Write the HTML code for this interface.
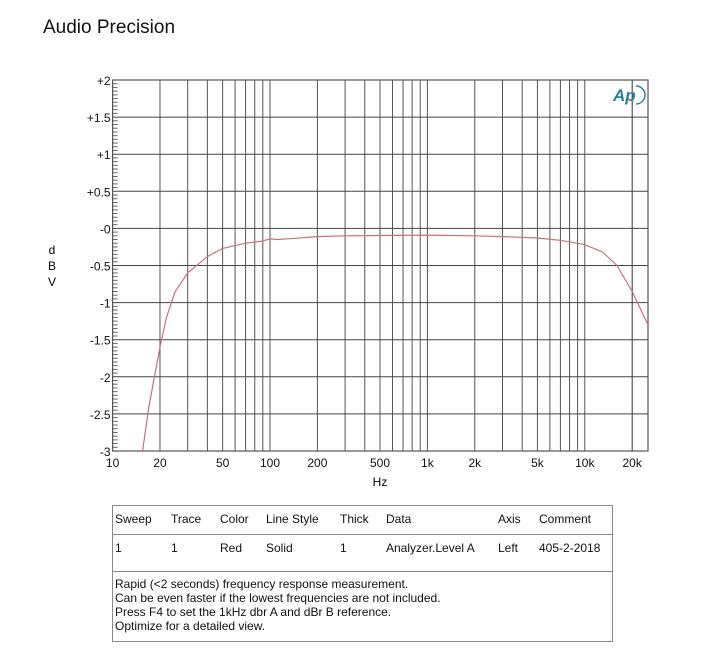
<!DOCTYPE html>
<html><head><meta charset="utf-8"><style>
body{margin:0;background:#fff;font-family:"Liberation Sans",Arial,sans-serif;}
svg{display:block}
</style></head><body>
<svg id="s" width="726" height="652" xmlns="http://www.w3.org/2000/svg" font-family="Liberation Sans, Arial, sans-serif">
<rect width="726" height="652" fill="#fff"/>
<text x="43" y="33" font-size="19" fill="#111">Audio Precision</text>
<g id="grid"></g>
<text x="52" y="254" font-size="12" text-anchor="middle">d</text>
<text x="52" y="270" font-size="12" text-anchor="middle">B</text>
<text x="52" y="286" font-size="12" text-anchor="middle">V</text>
<text x="380" y="486" font-size="12" text-anchor="middle">Hz</text>
<text x="613" y="101" font-size="17" font-style="italic" font-weight="bold" fill="#2a7f9a">Ap</text>
<path d="M636 86 A9 9 0 0 1 636 104" fill="none" stroke="#2a7f9a" stroke-width="1.5"/>
<!-- table -->
<rect x="112.5" y="505.5" width="500" height="136" fill="none" stroke="#888"/>
<line x1="112" y1="534.5" x2="612" y2="534.5" stroke="#888"/>
<line x1="112" y1="571.5" x2="612" y2="571.5" stroke="#888"/>
<g font-size="12" fill="#111">
<text x="115" y="523">Sweep</text><text x="171" y="523">Trace</text><text x="220" y="523">Color</text><text x="266" y="523">Line Style</text><text x="340" y="523">Thick</text><text x="386" y="523">Data</text><text x="498" y="523">Axis</text><text x="539" y="523">Comment</text>
<text x="115" y="552">1</text><text x="171" y="552">1</text><text x="220" y="552">Red</text><text x="266" y="552">Solid</text><text x="340" y="552">1</text><text x="386" y="552">Analyzer.Level A</text><text x="498" y="552">Left</text><text x="539" y="552">405-2-2018</text>
<text x="115" y="588">Rapid (&lt;2 seconds) frequency response measurement.</text>
<text x="115" y="602">Can be even faster if the lowest frequencies are not included.</text>
<text x="115" y="616">Press F4 to set the 1kHz dbr A and dBr B reference.</text>
<text x="115" y="630">Optimize for a detailed view.</text>
</g>
</svg>
<script>
var NS="http://www.w3.org/2000/svg",g=document.getElementById("grid");
function el(t,a,txt){var e=document.createElementNS(NS,t);for(var k in a)e.setAttribute(k,a[k]);if(txt)e.textContent=txt;g.appendChild(e);return e;}
var L=112.6,D=157.4,T=80,B=451,R=648,P=74.2;
function X(f){return L+D*Math.log10(f/10);}
function Y(v){return T+(2-v)*P;}
// vertical grid
[10,100,1000,10000].forEach(function(d){for(var m=1;m<=9;m++){var f=d*m;if(f<=10)continue;var x=X(f);if(x>R)continue;el("line",{x1:x,y1:T,x2:x,y2:B,stroke:(f==20000?"#333":"#555"),"stroke-width":1});}});
// horizontal grid
for(var v=2;v>=-3;v-=0.5){var y=Y(v);el("line",{x1:L,y1:y,x2:R,y2:y,stroke:"#444","stroke-width":1});}
// minor y ticks
for(var i=0;i<=100;i++){var y=T+i*(B-T)/100;el("line",{x1:L,y1:y,x2:L+(i%10==0?0:5),y2:y,stroke:"#666","stroke-width":1});}
el("rect",{x:L,y:T,width:R-L,height:B-T,fill:"none",stroke:"#555","stroke-width":1.2});
// y labels
var yl=["+2","+1.5","+1","+0.5","-0","-0.5","-1","-1.5","-2","-2.5","-3"];
yl.forEach(function(s,i){el("text",{x:L-2,y:Y(2-i*0.5)+5,"font-size":12,"text-anchor":"end",fill:"#111"},s);});
// x labels
[[10,"10"],[20,"20"],[50,"50"],[100,"100"],[200,"200"],[500,"500"],[1000,"1k"],[2000,"2k"],[5000,"5k"],[10000,"10k"],[20000,"20k"]].forEach(function(a){el("text",{x:X(a[0]),y:467,"font-size":12,"text-anchor":"middle",fill:"#111"},a[1]);});
// curve
var pts=[[15.5,-3],[17,-2.4],[20,-1.6],[22,-1.2],[25,-0.85],[30,-0.6],[40,-0.38],[50,-0.27],[70,-0.2],[90,-0.17],[100,-0.14],[110,-0.15],[130,-0.14],[200,-0.11],[300,-0.1],[1000,-0.09],[2000,-0.1],[3000,-0.11],[5000,-0.13],[7000,-0.16],[10000,-0.22],[13000,-0.32],[16000,-0.5],[20000,-0.85],[25200,-1.3]];
var d=pts.map(function(p,i){return (i?"L":"M")+X(p[0]).toFixed(1)+" "+Y(p[1]).toFixed(1);}).join(" ");
el("path",{d:d,fill:"none",stroke:"#c9707a","stroke-width":1.2});
</script>
</body></html>
